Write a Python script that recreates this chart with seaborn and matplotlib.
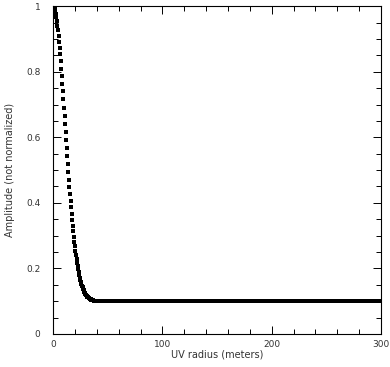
import numpy as np
import pandas as pd
import matplotlib
matplotlib.use('Agg')
import matplotlib.pyplot as plt
import seaborn as sns
from matplotlib.ticker import MultipleLocator

# amplitude vs uv radius, sampled every 0.5 m
uv_step = 0.5
amp_core = [1.000, 0.999, 0.996, 0.992, 0.985, 0.977, 0.967, 0.955, 0.941, 0.926,
            0.910, 0.892, 0.873, 0.853, 0.832, 0.810, 0.787, 0.764, 0.740, 0.716,
            0.691, 0.666, 0.641, 0.616, 0.591, 0.566, 0.542, 0.518, 0.494, 0.471,
            0.449, 0.427, 0.406, 0.386, 0.367, 0.348, 0.330, 0.313, 0.297, 0.282,
            0.267, 0.254, 0.241, 0.229, 0.217, 0.207, 0.197, 0.188, 0.180, 0.172,
            0.165, 0.158, 0.152, 0.147, 0.142, 0.137, 0.133, 0.129, 0.126, 0.123,
            0.120, 0.118, 0.116, 0.114, 0.112, 0.111, 0.109, 0.108, 0.107, 0.106,
            0.105, 0.104, 0.104, 0.103, 0.103, 0.102, 0.102, 0.102, 0.101, 0.101,
            0.101]
amp_plateau = [0.100] * 520
amplitude = amp_core + amp_plateau
uv_radius = np.arange(len(amplitude)) * uv_step

df = pd.DataFrame({'uv': uv_radius, 'amp': amplitude})
df = df[df['uv'] <= 300]

sns.set_style('ticks')
plt.rcParams['font.family'] = ['DejaVu Sans']

fig = plt.figure(figsize=(3.9, 3.67), dpi=100)
ax = fig.add_axes([0.136, 0.09, 0.841, 0.893])
sns.scatterplot(data=df, x='uv', y='amp', marker='s', s=5, color='black',
                linewidth=0, ax=ax)

ax.set_xlim(0, 300)
ax.set_ylim(0, 1)
ax.xaxis.set_major_locator(MultipleLocator(100))
ax.xaxis.set_minor_locator(MultipleLocator(20))
ax.yaxis.set_major_locator(MultipleLocator(0.2))
ax.yaxis.set_minor_locator(MultipleLocator(0.05))
ax.set_yticks([0, 0.2, 0.4, 0.6, 0.8, 1])
ax.set_yticklabels(['0', '0.2', '0.4', '0.6', '0.8', '1'])
ax.tick_params(which='both', direction='in', top=True, right=True,
               labelsize=6.5, labelcolor='#333333', color='black', width=0.7)
ax.tick_params(which='major', length=6)
ax.tick_params(which='minor', length=3.5)
ax.tick_params(axis='x', which='major', pad=4)
ax.tick_params(axis='y', which='major', pad=9)
for sp in ax.spines.values():
    sp.set_linewidth(0.8)
    sp.set_color('black')

ax.set_xlabel('UV radius (meters)', fontsize=7, color='#333333', labelpad=1)
ax.set_ylabel('Amplitude (not normalized)', fontsize=7, color='#333333', labelpad=8)

plt.savefig('out.png', dpi=100)
